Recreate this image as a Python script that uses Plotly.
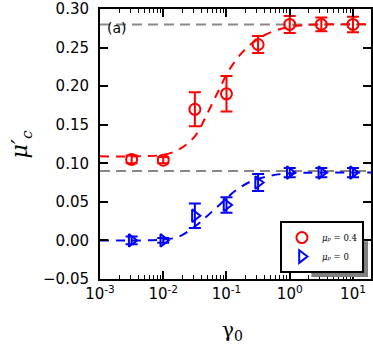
import plotly.graph_objects as go

# data points
gamma0 = [10**-2.5, 1e-2, 10**-1.5, 1e-1, 10**-0.5, 1.0, 10**0.5, 10.0]
red_mu = [0.105, 0.104, 0.170, 0.190, 0.254, 0.280, 0.280, 0.280]
red_err = [0.005, 0.004, 0.022, 0.023, 0.011, 0.011, 0.009, 0.010]
blue_mu = [0.000, 0.000, 0.032, 0.046, 0.075, 0.088, 0.088, 0.088]
blue_err = [0.005, 0.003, 0.016, 0.010, 0.011, 0.006, 0.006, 0.006]

# fitted curves (log10 gamma0, mu)
fit_logx_red = [-3.0, -2.5, -2.0, -1.75, -1.5, -1.3, -1.12, -0.95, -0.7, -0.4, 0.0, 0.5, 1.3]
fit_red = [0.109, 0.109, 0.111, 0.118, 0.135, 0.165, 0.195, 0.222, 0.248, 0.266, 0.277, 0.280, 0.280]
fit_logx_blue = [-3.0, -2.5, -2.0, -1.75, -1.5, -1.3, -1.1, -0.85, -0.6, -0.3, 0.0, 0.5, 1.3]
fit_blue = [0.000, 0.000, 0.001, 0.005, 0.018, 0.032, 0.047, 0.065, 0.077, 0.084, 0.087, 0.088, 0.088]

ref_levels = [0.28, 0.09]

xtick_vals = [1e-3, 1e-2, 1e-1, 1, 10]
xtick_text = ["10<sup>-3</sup>", "10<sup>-2</sup>", "10<sup>-1</sup>", "10<sup>0</sup>", "10<sup>1</sup>"]
minor_vals = [m * d for d in [1e-3, 1e-2, 1e-1, 1, 10] for m in range(2, 10)]
ytick_vals = [-0.05, 0.0, 0.05, 0.10, 0.15, 0.20, 0.25, 0.30]
ytick_text = ["\u22120.05", "0.00", "0.05", "0.10", "0.15", "0.20", "0.25", "0.30"]

RED = "#ff0000"
BLUE = "#0000ff"

fig = go.Figure()
for lv in ref_levels:
    fig.add_trace(go.Scatter(x=[1e-3, 10**1.3], y=[lv, lv], mode="lines",
                             line=dict(color="#888888", width=2, dash="10px,6px"),
                             showlegend=False, hoverinfo="skip"))
fig.add_trace(go.Scatter(x=[10**v for v in fit_logx_red], y=fit_red, mode="lines",
                         line=dict(color=RED, width=2, dash="9px,7px", shape="spline"),
                         showlegend=False))
fig.add_trace(go.Scatter(x=[10**v for v in fit_logx_blue], y=fit_blue, mode="lines",
                         line=dict(color=BLUE, width=2, dash="9px,7px", shape="spline"),
                         showlegend=False))
fig.add_trace(go.Scatter(x=gamma0, y=red_mu, mode="markers", name="<i>μₚ</i> = 0.4",
                         marker=dict(symbol="circle-open", size=11, color=RED, line=dict(width=2)),
                         error_y=dict(type="data", array=red_err, color=RED, thickness=2, width=6)))
fig.add_trace(go.Scatter(x=gamma0, y=blue_mu, mode="markers", name="<i>μₚ</i> = 0",
                         marker=dict(symbol="triangle-right-open", size=11, color=BLUE, line=dict(width=2)),
                         error_y=dict(type="data", array=blue_err, color=BLUE, thickness=2, width=6)))

axis_common = dict(showline=True, linecolor="black", linewidth=2, mirror="ticks",
                   ticks="inside", tickcolor="black", tickwidth=1.5, ticklen=8,
                   showgrid=False, zeroline=False, automargin=False,
                   ticklabeloverflow="allow",
                   tickfont=dict(family="DejaVu Sans", size=15, color="black"))

fig.update_xaxes(type="log", range=[-3, 1.285], tickvals=xtick_vals, ticktext=xtick_text,
                 minor=dict(ticks="inside", ticklen=4, tickcolor="black", tickwidth=1,
                            tickvals=minor_vals, showgrid=False),
                 **axis_common)
fig.update_yaxes(range=[-0.05, 0.30], tickvals=ytick_vals, ticktext=ytick_text,
                 ticklabelstandoff=6, **axis_common)

# legend shadow
fig.add_shape(type="rect", xref="paper", yref="paper",
              x0=0.78, x1=0.989, y0=0.007, y1=0.14,
              fillcolor="#808080", line=dict(width=0), layer="above")

fig.add_annotation(text="(a)", xref="paper", yref="paper", x=0.018, y=0.93,
                   xanchor="left", yanchor="middle", showarrow=False,
                   font=dict(family="DejaVu Sans", size=14, color="black"))
fig.add_annotation(text="<i>μ′<sub>c</sub></i>", xref="paper", yref="paper",
                   x=-0.29, y=0.50, xanchor="center", yanchor="middle", showarrow=False,
                   textangle=-90, font=dict(family="DejaVu Serif", size=22, color="black"))
fig.add_annotation(text="γ<sub>0</sub>", xref="paper", yref="paper",
                   x=0.49, y=-0.193, xanchor="center", yanchor="middle", showarrow=False,
                   font=dict(family="DejaVu Serif", size=20, color="black"))

fig.update_layout(
    width=373, height=344,
    margin=dict(l=100, r=2, t=9, b=65, autoexpand=False),
    paper_bgcolor="white", plot_bgcolor="white",
    legend=dict(x=0.974, y=0.022, xanchor="right", yanchor="bottom",
                bgcolor="white", bordercolor="black", borderwidth=2,
                font=dict(family="DejaVu Serif", size=8.5, color="black"),
                tracegroupgap=0, itemwidth=30),
)

fig.write_html("out.html", config={"displayModeBar": False},
               post_script="document.body.style.margin='0';")
